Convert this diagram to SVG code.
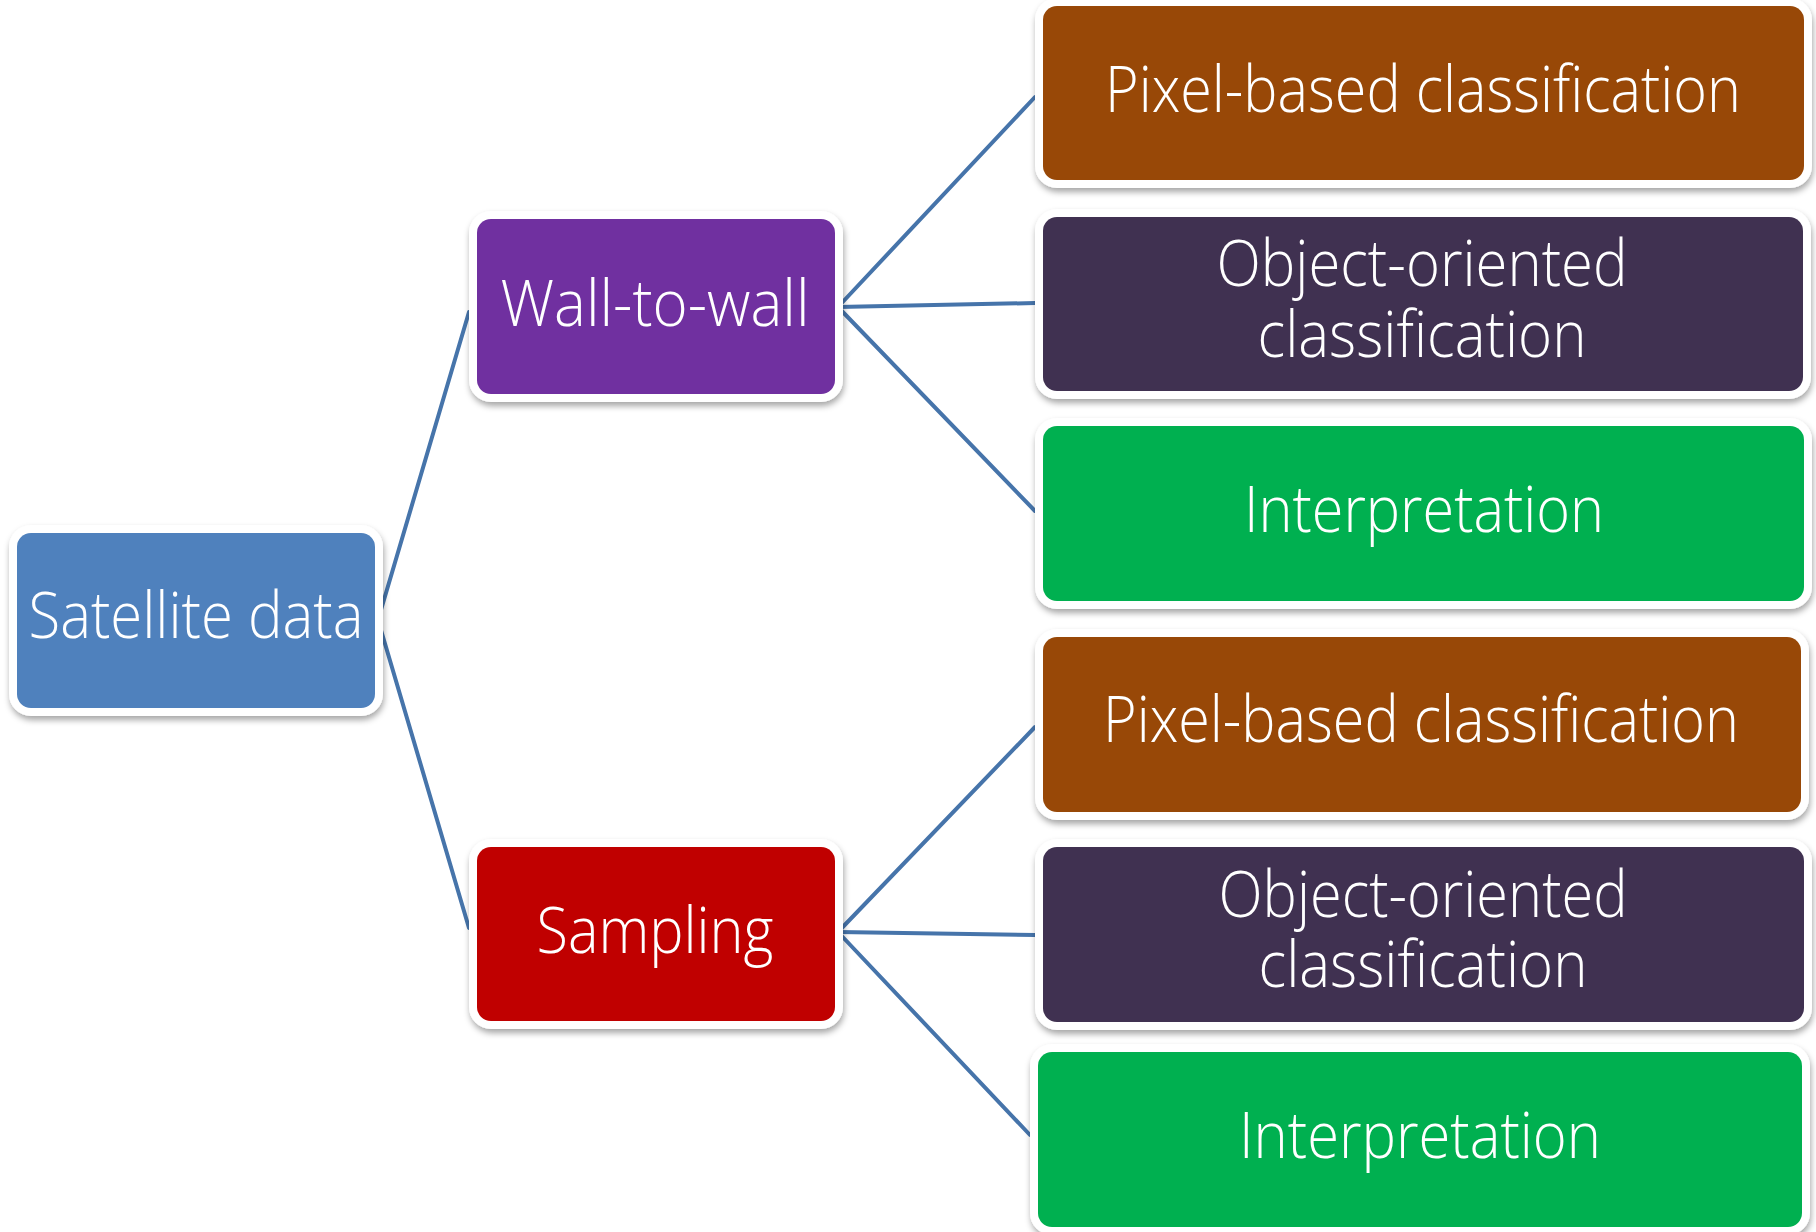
<svg xmlns="http://www.w3.org/2000/svg" width="1816" height="1232" viewBox="0 0 1816 1232">
<defs>
<filter id="sh" x="-10%" y="-10%" width="120%" height="130%">
<feDropShadow dx="1" dy="4" stdDeviation="3" flood-color="#000" flood-opacity="0.35"/>
</filter>
<style>
.halo{fill:#fff;filter:url(#sh)}
.lbl{font-family:"Open Sans","Noto Sans","Liberation Sans",sans-serif;font-weight:300;font-size:64px;fill:#fff;text-anchor:middle}
.con{stroke:#4674aa;stroke-width:4;fill:none;stroke-linecap:round}
</style>
</defs>
<rect width="1816" height="1232" fill="#fff"/>
<g id="connectors">
<path class="con" d="M378,620 L469,312"/>
<path class="con" d="M378,620 L469,928"/>
<path class="con" d="M838,307 L1035,97"/>
<path class="con" d="M838,307 L1035,303"/>
<path class="con" d="M838,307 L1035,511"/>
<path class="con" d="M838,932 L1035,727"/>
<path class="con" d="M838,932 L1035,935"/>
<path class="con" d="M838,932 L1030,1135"/>
</g>
<g id="satellite">
<rect class="halo" x="9" y="525" width="374" height="191" rx="22"/>
<rect x="17" y="533" width="358" height="175" rx="14" fill="#4f81bd"/>
<text class="lbl" x="196" y="638" textLength="335" lengthAdjust="spacingAndGlyphs">Satellite data</text>
</g>
<g id="wall">
<rect class="halo" x="469" y="211" width="374" height="191" rx="22"/>
<rect x="477" y="219" width="358" height="175" rx="14" fill="#7030a0"/>
<text class="lbl" x="655" y="326" textLength="309" lengthAdjust="spacingAndGlyphs">Wall-to-wall</text>
</g>
<g id="sampling">
<rect class="halo" x="469" y="839" width="374" height="190" rx="22"/>
<rect x="477" y="847" width="358" height="174" rx="14" fill="#c00000"/>
<text class="lbl" x="655" y="953" textLength="237" lengthAdjust="spacingAndGlyphs">Sampling</text>
</g>
<g id="pixel1">
<rect class="halo" x="1035" y="-2" width="777" height="190" rx="22"/>
<rect x="1043" y="6" width="761" height="174" rx="14" fill="#984807"/>
<text class="lbl" x="1423" y="112" textLength="636" lengthAdjust="spacingAndGlyphs">Pixel-based classification</text>
</g>
<g id="object1">
<rect class="halo" x="1035" y="209" width="776" height="190" rx="22"/>
<rect x="1043" y="217" width="760" height="174" rx="14" fill="#403151"/>
<text class="lbl"><tspan x="1422" y="286" textLength="411" lengthAdjust="spacingAndGlyphs">Object-oriented</tspan><tspan x="1422" y="357" textLength="329" lengthAdjust="spacingAndGlyphs">classification</tspan></text>
</g>
<g id="interp1">
<rect class="halo" x="1035" y="418" width="777" height="191" rx="22"/>
<rect x="1043" y="426" width="761" height="175" rx="14" fill="#00b050"/>
<text class="lbl" x="1424" y="532" textLength="360" lengthAdjust="spacingAndGlyphs">Interpretation</text>
</g>
<g id="pixel2">
<rect class="halo" x="1035" y="629" width="774" height="191" rx="22"/>
<rect x="1043" y="637" width="758" height="175" rx="14" fill="#984807"/>
<text class="lbl" x="1421" y="742" textLength="636" lengthAdjust="spacingAndGlyphs">Pixel-based classification</text>
</g>
<g id="object2">
<rect class="halo" x="1035" y="839" width="777" height="191" rx="22"/>
<rect x="1043" y="847" width="761" height="175" rx="14" fill="#403151"/>
<text class="lbl"><tspan x="1423" y="917" textLength="409" lengthAdjust="spacingAndGlyphs">Object-oriented</tspan><tspan x="1423" y="987" textLength="329" lengthAdjust="spacingAndGlyphs">classification</tspan></text>
</g>
<g id="interp2">
<rect class="halo" x="1030" y="1044" width="780" height="191" rx="22"/>
<rect x="1038" y="1052" width="764" height="175" rx="14" fill="#00b050"/>
<text class="lbl" x="1420" y="1158" textLength="362" lengthAdjust="spacingAndGlyphs">Interpretation</text>
</g>
</svg>
